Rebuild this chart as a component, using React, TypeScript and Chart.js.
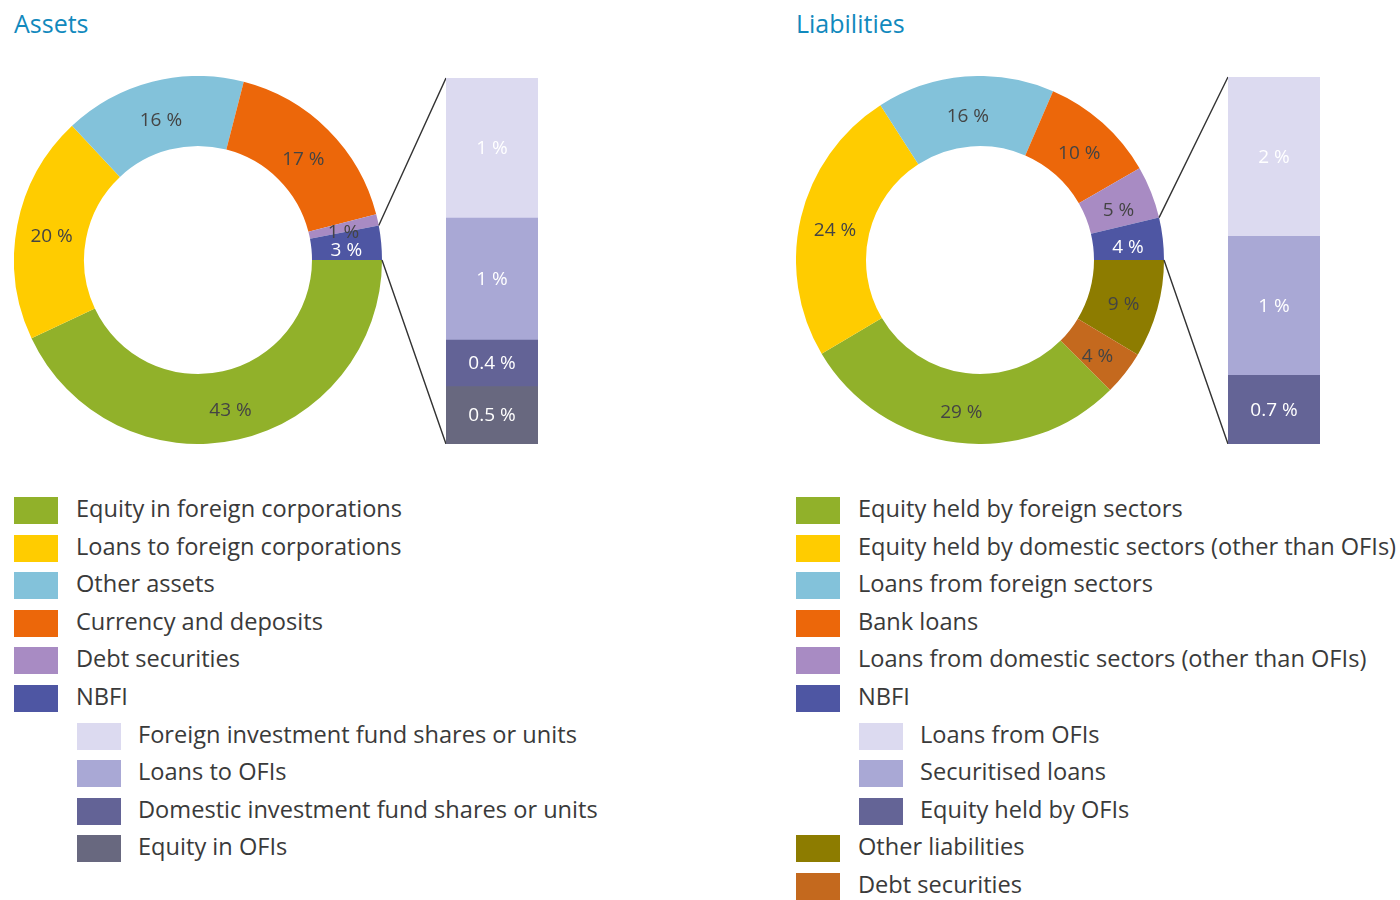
import React, { useEffect, useRef } from "react";
import { Chart, registerables } from "chart.js";

Chart.register(...registerables);

// ---------- DATA ----------
const assetTitle = "Assets";
const assetLabels = [
  "Equity in foreign corporations",
  "Loans to foreign corporations",
  "Other assets",
  "Currency and deposits",
  "Debt securities",
  "NBFI",
];
const assetValues = [43, 20, 16, 17, 1, 3];
const assetColors = ["#91b12a", "#ffcc00", "#83c2da", "#ec670a", "#a88bc3", "#4e56a3"];
const assetTextColors = ["#444", "#444", "#444", "#444", "#444", "#fff"];
const assetSubLabels = [
  "Foreign investment fund shares or units",
  "Loans to OFIs",
  "Domestic investment fund shares or units",
  "Equity in OFIs",
];
const assetSubValues = [1.2, 1.05, 0.4, 0.5];
const assetSubColors = ["#dcdaf0", "#a9a8d5", "#636396", "#68687f"];

const liabTitle = "Liabilities";
const liabLabels = [
  "Equity held by foreign sectors",
  "Equity held by domestic sectors (other than OFIs)",
  "Loans from foreign sectors",
  "Bank loans",
  "Loans from domestic sectors (other than OFIs)",
  "NBFI",
  "Other liabilities",
  "Debt securities",
];
const liabValues = [29, 24.4, 15.6, 10.2, 4.6, 3.7, 8.6, 3.9];
const liabColors = ["#91b12a", "#ffcc00", "#83c2da", "#ec670a", "#a88bc3", "#4e56a3", "#8d7c00", "#c4691e"];
const liabTextColors = ["#444", "#444", "#444", "#444", "#444", "#fff", "#444", "#444"];
const liabSubLabels = ["Loans from OFIs", "Securitised loans", "Equity held by OFIs"];
const liabSubValues = [1.6, 1.4, 0.7];
const liabSubColors = ["#dcdaf0", "#a9a8d5", "#646496"];

const nbfiIndex = 5;

// ---------- HELPERS ----------
const FONT = "'Open Sans', 'Noto Sans', sans-serif";
const fmt = (v: number) => (v < 1 ? v.toFixed(1) : String(Math.round(v))) + " %";

const arcLabelPlugin = {
  id: "arcLabels",
  afterDatasetsDraw(chart: any, _args: any, opts: any) {
    const ctx = chart.ctx;
    const meta = chart.getDatasetMeta(0);
    const values = chart.data.datasets[0].data as number[];
    ctx.save();
    ctx.font = `19px ${FONT}`;
    ctx.textAlign = "center";
    ctx.textBaseline = "middle";
    meta.data.forEach((el: any, i: number) => {
      const p = el.getCenterPoint();
      ctx.fillStyle = opts.colors[i];
      ctx.fillText(fmt(values[i]), p.x, p.y + 5);
    });
    // connectors from NBFI slice to the breakdown bar
    const nb = meta.data[opts.nbfi];
    if (nb) {
      const { x, y, startAngle, endAngle, outerRadius } = nb.getProps(
        ["x", "y", "startAngle", "endAngle", "outerRadius"],
        true
      );
      ctx.strokeStyle = "#333";
      ctx.lineWidth = 1.4;
      ctx.beginPath();
      ctx.moveTo(x + outerRadius * Math.cos(startAngle), y + outerRadius * Math.sin(startAngle));
      ctx.lineTo(opts.targetX, opts.topY);
      ctx.moveTo(x + outerRadius * Math.cos(endAngle), y + outerRadius * Math.sin(endAngle));
      ctx.lineTo(opts.targetX, opts.bottomY);
      ctx.stroke();
    }
    ctx.restore();
  },
};

const barLabelPlugin = {
  id: "barLabels",
  afterDatasetsDraw(chart: any) {
    const ctx = chart.ctx;
    ctx.save();
    ctx.font = `19px ${FONT}`;
    ctx.textAlign = "center";
    ctx.textBaseline = "middle";
    ctx.fillStyle = "#fff";
    chart.data.datasets.forEach((ds: any, i: number) => {
      const el = chart.getDatasetMeta(i).data[0];
      const { x, y, base } = el.getProps(["x", "y", "base"], true);
      ctx.fillText(fmt(ds.data[0]), x, (y + base) / 2 + 1);
    });
    ctx.restore();
  },
};

const DONUT_R = 184;
const DONUT_CUT = 114;

function Donut({ left, top, width, values, colors, textColors, barTop, barHeight }: any) {
  const ref = useRef<HTMLCanvasElement>(null);
  useEffect(() => {
    const total = values.reduce((a: number, b: number) => a + b, 0);
    const after = values.slice(nbfiIndex + 1).reduce((a: number, b: number) => a + b, 0);
    const rotation = 90 + (360 * after) / total;
    const chart = new Chart(ref.current!, {
      type: "doughnut",
      data: {
        labels: values.map((_: number, i: number) => String(i)),
        datasets: [{ data: values, backgroundColor: colors, borderWidth: 0, hoverOffset: 0 }],
      },
      options: {
        animation: false,
        responsive: false,
        rotation,
        radius: DONUT_R,
        cutout: DONUT_CUT,
        layout: { padding: { left: 0, top: 0, bottom: 0, right: width - 2 * DONUT_R } },
        plugins: {
          legend: { display: false },
          tooltip: { enabled: false },
          arcLabels: {
            colors: textColors,
            nbfi: nbfiIndex,
            targetX: width,
            topY: barTop - top,
            bottomY: barTop - top + barHeight,
          },
        } as any,
      },
      plugins: [arcLabelPlugin],
    });
    return () => chart.destroy();
  }, []);
  return (
    <canvas
      ref={ref}
      width={width}
      height={2 * DONUT_R}
      style={{ position: "absolute", left, top, width, height: 2 * DONUT_R }}
    />
  );
}

function NbfiBar({ left, top, width, height, values, colors }: any) {
  const ref = useRef<HTMLCanvasElement>(null);
  useEffect(() => {
    const total = values.reduce((a: number, b: number) => a + b, 0);
    const chart = new Chart(ref.current!, {
      type: "bar",
      data: {
        labels: ["NBFI"],
        datasets: values.map((v: number, i: number) => ({
          data: [v],
          backgroundColor: colors[i],
          borderWidth: 0,
          barPercentage: 1,
          categoryPercentage: 1,
        })),
      },
      options: {
        animation: false,
        responsive: false,
        layout: { padding: 0 },
        scales: {
          x: { stacked: true, display: false },
          y: { stacked: true, display: false, reverse: true, min: 0, max: total },
        },
        plugins: { legend: { display: false }, tooltip: { enabled: false } },
      },
      plugins: [barLabelPlugin],
    });
    return () => chart.destroy();
  }, []);
  return (
    <canvas
      ref={ref}
      width={width}
      height={height}
      style={{ position: "absolute", left, top, width, height }}
    />
  );
}

const ROW0 = 497;
const ROW_STEP = 37.6;

function Legend({ left, labels, colors, subLabels, subColors }: any) {
  const rows: any[] = [];
  labels.forEach((l: string, i: number) => {
    rows.push({ label: l, color: colors[i], indent: false });
    if (i === nbfiIndex) {
      subLabels.forEach((s: string, j: number) => rows.push({ label: s, color: subColors[j], indent: true }));
    }
  });
  return (
    <>
      {rows.map((r, k) => (
        <div
          key={k}
          style={{
            position: "absolute",
            left: left + (r.indent ? 63 : 0),
            top: ROW0 + k * ROW_STEP,
            height: 27,
            display: "flex",
            alignItems: "center",
            whiteSpace: "nowrap",
          }}
        >
          <div style={{ width: 44, height: 27, background: r.color, flex: "none" }} />
          <span
            style={{
              marginLeft: r.indent ? 17 : 18,
              fontFamily: FONT,
              fontSize: 23.6,
              lineHeight: "27px",
              color: "#3a3a3a",
              position: "relative",
              top: -2,
            }}
          >
            {r.label}
          </span>
        </div>
      ))}
    </>
  );
}

function Title({ left, text }: any) {
  return (
    <div
      style={{
        position: "absolute",
        left,
        top: 11,
        fontFamily: FONT,
        fontSize: 25,
        lineHeight: "25px",
        color: "#1189bd",
        whiteSpace: "nowrap",
      }}
    >
      {text}
    </div>
  );
}

export default function App() {
  return (
    <div
      style={{
        position: "absolute",
        left: 0,
        top: 0,
        width: 1400,
        height: 900,
        background: "#fff",
        overflow: "hidden",
      }}
    >
      <Title left={14} text={assetTitle} />
      <Title left={796} text={liabTitle} />

      <Donut
        left={14}
        top={76}
        width={432}
        values={assetValues}
        colors={assetColors}
        textColors={assetTextColors}
        barTop={78}
        barHeight={366}
      />
      <NbfiBar left={446} top={78} width={92} height={366} values={assetSubValues} colors={assetSubColors} />

      <Donut
        left={796}
        top={76}
        width={432}
        values={liabValues}
        colors={liabColors}
        textColors={liabTextColors}
        barTop={77}
        barHeight={367}
      />
      <NbfiBar left={1228} top={77} width={92} height={367} values={liabSubValues} colors={liabSubColors} />

      <Legend left={14} labels={assetLabels} colors={assetColors} subLabels={assetSubLabels} subColors={assetSubColors} />
      <Legend left={796} labels={liabLabels} colors={liabColors} subLabels={liabSubLabels} subColors={liabSubColors} />
    </div>
  );
}
